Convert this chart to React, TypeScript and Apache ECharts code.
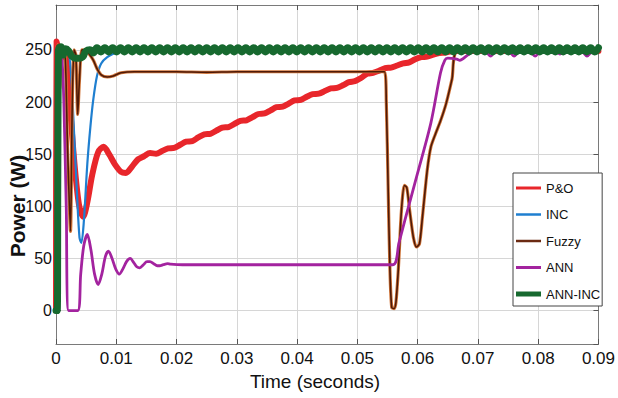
import React, { useEffect, useRef } from "react";
import * as echarts from "echarts";

const seriesNames = ["P&O", "INC", "Fuzzy", "ANN", "ANN-INC"];
const xTicks = [0, 0.01, 0.02, 0.03, 0.04, 0.05, 0.06, 0.07, 0.08, 0.09];

const poData = [
  [0, 0], [0.0001, 258], [0.0004, 250], [0.0008, 242], [0.0012, 251], [0.0016, 247], [0.0022, 205],
  [0.003, 145], [0.0038, 102], [0.0045, 90], [0.0052, 104], [0.006, 130], [0.007, 152], [0.0079, 157],
  [0.0088, 150], [0.0098, 140], [0.0108, 133], [0.0116, 132], [0.0126, 138], [0.0136, 145], [0.0146, 148],
  [0.0156, 151], [0.0166, 150.5], [0.0176, 153], [0.0186, 155.5], [0.0196, 156], [0.0206, 159],
  [0.0216, 162], [0.0226, 162.5], [0.0236, 166], [0.0246, 169], [0.0256, 169.5], [0.0266, 172.5],
  [0.0276, 175.5], [0.0286, 176], [0.0296, 179], [0.0306, 182], [0.0316, 182.5], [0.0326, 185.5],
  [0.0336, 188.5], [0.0346, 189], [0.0356, 192], [0.0366, 195], [0.0376, 195.5], [0.0386, 198.5],
  [0.0396, 201.5], [0.0406, 202], [0.0416, 205], [0.0426, 207.5], [0.0436, 208], [0.0446, 210.5],
  [0.0456, 213], [0.0466, 213.5], [0.0476, 216], [0.0486, 219], [0.0496, 220], [0.0506, 223],
  [0.0516, 227], [0.0526, 228], [0.0536, 230], [0.0546, 232.5], [0.0556, 233], [0.0566, 235],
  [0.0576, 237], [0.0586, 238], [0.0596, 241], [0.0606, 243], [0.0616, 243.5], [0.0626, 245.5],
  [0.0636, 247], [0.0646, 247.5], [0.066, 249], [0.09, 249],
];

const incData = [
  [0, 0], [0.0002, 252], [0.0006, 236], [0.001, 250], [0.0015, 245], [0.002, 248], [0.0025, 226],
  [0.003, 170], [0.0035, 110], [0.0039, 70], [0.0042, 65], [0.0046, 84], [0.0052, 141], [0.0057, 176],
  [0.0062, 203], [0.0068, 225], [0.0075, 237], [0.0085, 243], [0.0098, 247], [0.0105, 249], [0.09, 249],
];

const fuzzyData = [
  [0, 0], [0.0002, 255], [0.0006, 212], [0.001, 250], [0.0015, 248], [0.0019, 160], [0.0024, 76],
  [0.0027, 200], [0.003, 250], [0.0033, 245], [0.0036, 188], [0.0039, 222], [0.0043, 250], [0.005, 249],
  [0.0055, 246], [0.0062, 240], [0.0068, 232], [0.0075, 226], [0.0085, 224], [0.0095, 225], [0.0108, 228],
  [0.013, 229], [0.02, 229], [0.025, 228.5], [0.03, 229], [0.04, 229], [0.0545, 229], [0.0548, 200],
  [0.0551, 120], [0.0554, 40], [0.0557, 3], [0.0561, 2], [0.0564, 8], [0.0568, 40], [0.0573, 95],
  [0.0578, 120], [0.0582, 118], [0.0587, 95], [0.0593, 70], [0.0598, 61], [0.0603, 64], [0.0608, 90],
  [0.0616, 135], [0.0622, 157], [0.063, 170], [0.0638, 182], [0.0647, 198], [0.0657, 222], [0.0667, 249],
  [0.09, 249],
];

const annData = [
  [0, 0], [0.0003, 200], [0.0006, 252], [0.001, 240], [0.0013, 200], [0.0017, 100], [0.0021, 0],
  [0.0036, 0], [0.0041, 35], [0.0046, 62], [0.0052, 73], [0.0058, 58], [0.0064, 35], [0.007, 25],
  [0.0076, 35], [0.0082, 52], [0.0087, 57], [0.0093, 50], [0.0099, 40], [0.0105, 35], [0.0111, 40],
  [0.0117, 47], [0.0123, 50], [0.0129, 46], [0.0134, 42], [0.0139, 41], [0.0145, 44], [0.0151, 47],
  [0.0156, 47], [0.0162, 45], [0.0168, 43], [0.0172, 43], [0.0178, 44], [0.0185, 45], [0.019, 44.5],
  [0.021, 44], [0.03, 44], [0.04, 44], [0.05, 44], [0.0559, 44], [0.0569, 65], [0.0579, 87],
  [0.06, 132], [0.0622, 180], [0.0638, 228], [0.0645, 240], [0.065, 242], [0.0665, 241], [0.067, 240],
  [0.0683, 245], [0.0695, 249], [0.0711, 249], [0.0721, 244], [0.0731, 249], [0.075, 249], [0.076, 244],
  [0.077, 249], [0.0785, 249], [0.0795, 244], [0.0805, 249], [0.0826, 249], [0.0836, 246], [0.0846, 249],
  [0.0871, 249], [0.0881, 244], [0.0891, 249], [0.09, 249],
];

const annIncData = [
  [0, 0], [0.0002, 0], [0.0003, 130], [0.0004, 250], [0.0008, 253], [0.0012, 245], [0.0016, 251],
  [0.0021, 249], [0.0026, 244], [0.0032, 242], [0.0038, 242], [0.0044, 243], [0.005, 249], [0.0056, 250],
  [0.0062, 247], [0.0068, 252], [0.00745, 248], [0.0081, 252], [0.00875, 248], [0.0094, 252],
  [0.01005, 248], [0.0107, 252], [0.01135, 248], [0.012, 252], [0.01265, 248], [0.0133, 252],
  [0.01395, 248], [0.0146, 252], [0.01525, 248], [0.0159, 252], [0.01655, 248], [0.0172, 252],
  [0.01785, 248], [0.0185, 252], [0.01915, 248], [0.0198, 252], [0.02045, 248], [0.0211, 252],
  [0.02175, 248], [0.0224, 252], [0.02305, 248], [0.0237, 252], [0.02435, 248], [0.025, 252],
  [0.02565, 248], [0.0263, 252], [0.02695, 248], [0.0276, 252], [0.02825, 248], [0.0289, 252],
  [0.02955, 248], [0.0302, 252], [0.03085, 248], [0.0315, 252], [0.03215, 248], [0.0328, 252],
  [0.03345, 248], [0.0341, 252], [0.03475, 248], [0.0354, 252], [0.03605, 248], [0.0367, 252],
  [0.03735, 248], [0.038, 252], [0.03865, 248], [0.0393, 252], [0.03995, 248], [0.0406, 252],
  [0.04125, 248], [0.0419, 252], [0.04255, 248], [0.0432, 252], [0.04385, 248], [0.0445, 252],
  [0.04515, 248], [0.0458, 252], [0.04645, 248], [0.0471, 252], [0.04775, 248], [0.0484, 252],
  [0.04905, 248], [0.0497, 252], [0.05035, 248], [0.051, 252], [0.05165, 248], [0.0523, 252],
  [0.05295, 248], [0.0536, 252], [0.05425, 248], [0.0549, 252], [0.05555, 248], [0.0562, 252],
  [0.05685, 248], [0.0575, 252], [0.05815, 248], [0.0588, 252], [0.05945, 248], [0.0601, 252],
  [0.06075, 248], [0.0614, 252], [0.06205, 248], [0.0627, 252], [0.06335, 248], [0.064, 252],
  [0.06465, 248], [0.0653, 252], [0.06595, 248], [0.0666, 252], [0.06725, 248], [0.0679, 252],
  [0.06855, 248], [0.0692, 252], [0.06985, 248], [0.0705, 252], [0.07115, 248], [0.0718, 252],
  [0.07245, 248], [0.0731, 252], [0.07375, 248], [0.0744, 252], [0.07505, 248], [0.0757, 252],
  [0.07635, 248], [0.077, 252], [0.07765, 248], [0.0783, 252], [0.07895, 248], [0.0796, 252],
  [0.08025, 248], [0.0809, 252], [0.08155, 248], [0.0822, 252], [0.08285, 248], [0.0835, 252],
  [0.08415, 248], [0.0848, 252], [0.08545, 248], [0.0861, 252], [0.08675, 248], [0.0874, 252],
  [0.08805, 248], [0.0887, 252], [0.08935, 248], [0.09, 252],
];

const colors = {
  po: "#e8262b",
  inc: "#1f7fd0",
  fuzzyCore: "#4e1a08",
  fuzzyEdge: "#d07438",
  fuzzyLegend: "#6b2a12",
  ann: "#a3239f",
  annInc: "#17692f",
};

const regular = "'Liberation Sans', Arial, sans-serif";

// legend line icons: invisible corner points fix the 25x14 box, the bar gives the thickness
const legendBar = (h: number) =>
  `path://M0,0M0,${(7 - h / 2).toFixed(2)}h25v${h}h-25zM25,14`;

export default function App() {
  const ref = useRef<HTMLDivElement>(null);

  useEffect(() => {
    if (!ref.current) return;
    const chart = echarts.init(ref.current, null, { renderer: "svg" });
    const fmtX = (v: number) => {
      const m = xTicks.find((t) => Math.abs(t - v) < 1e-9);
      const val = m === undefined ? v : m;
      return val === 0 ? "0" : val.toFixed(2);
    };
    const axisLineStyle = { color: "#7a7a7a", width: 1 };
    const tickStyle = { color: "#555", width: 1 };
    const line = (name: string, data: number[][], color: string, width: number, smooth: number, z: number) => ({
      type: "line",
      name,
      data,
      symbol: "none",
      showSymbol: false,
      symbolSize: 0,
      smooth,
      z,
      lineStyle: { color, width, cap: "round", join: "round" },
      itemStyle: { color },
      emphasis: { disabled: true },
    });
    chart.setOption({
      animation: false,
      backgroundColor: "#ffffff",
      grid: { left: 56, right: 16, top: 5, bottom: 54 },
      xAxis: [
        {
          type: "value",
          min: 0,
          max: 0.09,
          interval: 0.01,
          axisLine: { show: true, onZero: false, lineStyle: axisLineStyle },
          axisTick: { show: true, inside: true, length: 5, lineStyle: tickStyle },
          splitLine: { show: true, lineStyle: { color: "#d6d6d6", width: 1 } },
          axisLabel: { formatter: fmtX, color: "#111", fontSize: 17, fontFamily: regular, margin: 6 },
        },
        {
          type: "value",
          position: "top",
          min: 0,
          max: 0.09,
          interval: 0.01,
          axisLine: { show: true, onZero: false, lineStyle: axisLineStyle },
          axisTick: { show: true, inside: true, length: 5, lineStyle: tickStyle },
          splitLine: { show: false },
          axisLabel: { show: false },
        },
      ],
      yAxis: [
        {
          type: "value",
          min: -32,
          max: 293,
          axisLine: { show: true, onZero: false, lineStyle: axisLineStyle },
          axisTick: { show: true, inside: true, length: 5, lineStyle: tickStyle },
          splitLine: { show: true, lineStyle: { color: "#d6d6d6", width: 1 } },
          axisLabel: {
            color: "#111",
            fontSize: 16,
            fontFamily: regular,
            margin: 4,
            showMinLabel: false,
            showMaxLabel: false,
          },
        },
        {
          type: "value",
          position: "right",
          min: -32,
          max: 293,
          axisLine: { show: true, onZero: false, lineStyle: axisLineStyle },
          axisTick: { show: true, inside: true, length: 5, lineStyle: tickStyle },
          splitLine: { show: false },
          axisLabel: { show: false },
        },
      ],
      legend: {
        orient: "vertical",
        left: 513,
        top: 173,
        itemWidth: 25,
        itemHeight: 14,
        itemGap: 12.5,
        padding: [8, 2, 5, 3],
        backgroundColor: "#ffffff",
        borderColor: "#444",
        borderWidth: 1,
        borderRadius: 0,
        textStyle: { fontSize: 13, fontFamily: regular, color: "#111" },
        data: [
          { name: seriesNames[0], icon: legendBar(3), itemStyle: { color: colors.po, borderWidth: 0 } },
          { name: seriesNames[1], icon: legendBar(2.5), itemStyle: { color: colors.inc, borderWidth: 0 } },
          { name: seriesNames[2], icon: legendBar(2.5), itemStyle: { color: colors.fuzzyLegend, borderWidth: 0 } },
          { name: seriesNames[3], icon: legendBar(3), itemStyle: { color: colors.ann, borderWidth: 0 } },
          { name: seriesNames[4], icon: legendBar(5), itemStyle: { color: colors.annInc, borderWidth: 0 } },
        ],
      },
      graphic: [
        {
          type: "text",
          x: 17,
          y: 206,
          rotation: Math.PI / 2,
          style: {
            text: "Power (W)",
            font: `bold 21px ${regular}`,
            fill: "#111",
            align: "center",
            verticalAlign: "middle",
            textAlign: "center",
            textVerticalAlign: "middle",
          },
        },
        {
          type: "text",
          x: 315,
          y: 381,
          style: {
            text: "Time (seconds)",
            font: `19px ${regular}`,
            fill: "#111",
            align: "center",
            verticalAlign: "middle",
            textAlign: "center",
            textVerticalAlign: "middle",
          },
        },
      ],
      series: [
        line(seriesNames[0], poData, colors.po, 6, 0.3, 2),
        line(seriesNames[1], incData, colors.inc, 2.2, 0.3, 3),
        { ...line("", fuzzyData, colors.fuzzyEdge, 3.2, 0.25, 4), silent: true },
        line(seriesNames[2], fuzzyData, colors.fuzzyCore, 1.6, 0.25, 5),
        line(seriesNames[3], annData, colors.ann, 2.8, 0.3, 6),
        line(seriesNames[4], annIncData, colors.annInc, 7, 0.5, 7),
      ],
    });
    return () => chart.dispose();
  }, []);

  return (
    <div
      ref={ref}
      style={{ position: "fixed", left: 0, top: 0, width: 618, height: 398, background: "#fff" }}
    />
  );
}
